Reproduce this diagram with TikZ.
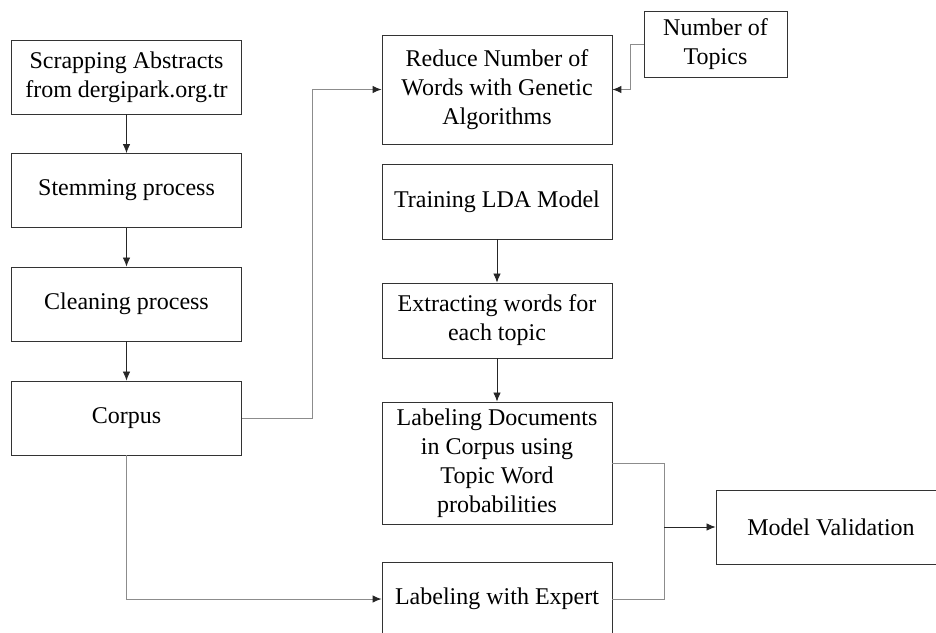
\documentclass[tikz,border=0pt]{standalone}
\usepackage{fontspec}
\setmainfont{Liberation Serif}
\usetikzlibrary{arrows.meta}

\tikzset{
  block/.style={draw=black!80, line width=0.9pt, fill=white, align=center,
    minimum width=230pt, minimum height=74pt, inner sep=2pt,
    font=\fontsize{24}{29}\selectfont},
  flow/.style={-{Latex[length=9pt,width=7.5pt]}, line width=0.8pt, black!85},
  link/.style={line width=1pt, black!45},
  linkflow/.style={link, -{Latex[length=9pt,width=7.5pt,color=black!85]}},
}

\begin{document}
\begin{tikzpicture}[x=1pt, y=-1pt]

 \clip (0,0) rectangle (936,632);

 % preprocessing column
 \node[block] (scrap)  at (126.5,77)  {Scrapping Abstracts\\from dergipark.org.tr};
 \node[block] (stem)   at (126.5,190.5) {Stemming process};
 \node[block] (clean)  at (126.5,304) {Cleaning process};
 \node[block] (corpus) at (126.5,418) {Corpus};

 % topic model column
 \node[block, minimum height=109pt] (reduce) at (497,89.5) {Reduce Number of\\Words with Genetic\\Algorithms};
 \node[block, minimum width=143pt, minimum height=66pt] (topics) at (715.5,44) {Number of\\Topics};
 \node[block, minimum height=75pt] (train)   at (497,201.5) {Training LDA Model};
 \node[block, minimum height=75pt] (extract) at (497,320.5) {Extracting words for\\each topic};
 \node[block, minimum height=122pt] (labdoc) at (497,463) {Labeling Documents\\in Corpus using\\Topic Word\\probabilities};
 \node[block] (expert) at (497,599) {Labeling with Expert};
 \node[block] (valid)  at (831,527) {Model Validation};

 \coordinate (c1) at (312,89.5);  % corpus -> reduce bend
 \coordinate (t1) at (630,89.5);  % topics -> reduce bend
 \coordinate (j)  at (664,527);   % join before validation

 \draw[flow] (scrap) -- (stem);
 \draw[flow] (stem) -- (clean);
 \draw[flow] (clean) -- (corpus);
 \draw[flow] (train) -- (extract);
 \draw[flow] (extract) -- (labdoc);

 \draw[link] (corpus.east) -| (c1);
 \draw[linkflow] (c1) -- (reduce.west);
 \draw[link] (topics.west) -| (t1);
 \draw[linkflow] (t1) -- (reduce.east);
 \draw[linkflow] (corpus.south) |- (expert.west);

 \draw[link] (labdoc.east) -| (j);
 \draw[link] (expert.east) -| (j);
 \draw[flow] (j) -- (valid.west);

\end{tikzpicture}
\end{document}
